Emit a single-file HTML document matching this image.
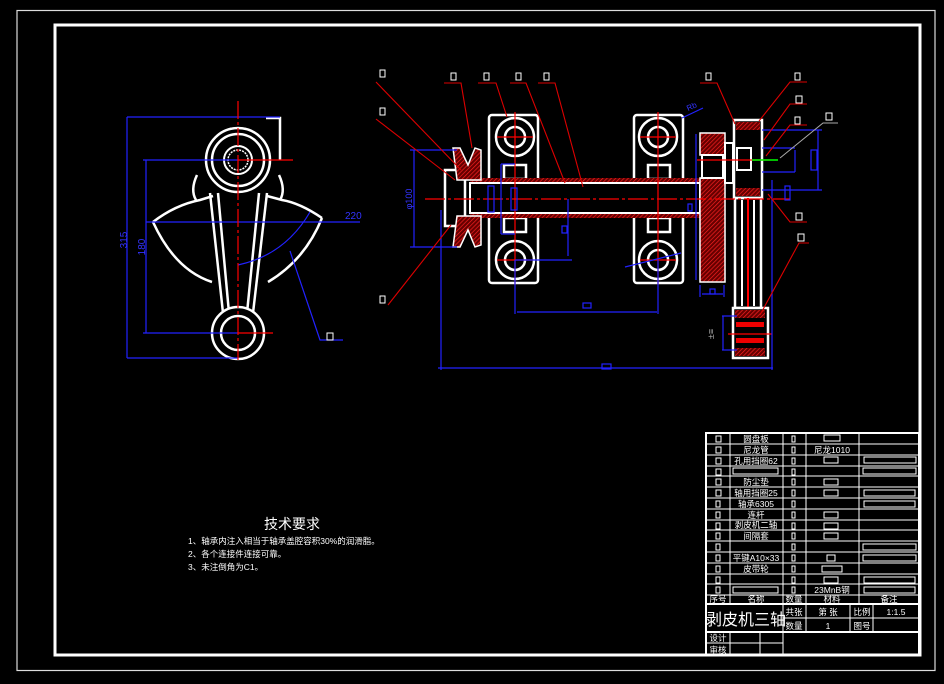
<!DOCTYPE html>
<html><head><meta charset="utf-8"><style>
html,body{margin:0;padding:0;background:#000;}
svg{display:block;}
text{font-family:"Liberation Sans","Noto Sans CJK SC",sans-serif;fill:#fff;}
</style></head><body>
<svg width="944" height="684" viewBox="0 0 944 684" xmlns="http://www.w3.org/2000/svg">
<defs>
<pattern id="h" width="3" height="3" patternUnits="userSpaceOnUse" patternTransform="rotate(45)">
<rect width="3" height="3" fill="#600"/><line x1="0" y1="0" x2="0" y2="3" stroke="#f22" stroke-width="1.3"/>
</pattern>
</defs>
<rect x="0" y="0" width="944" height="684" fill="#000"/>
<rect x="17" y="10.5" width="918" height="660" fill="none" stroke="#ddd" stroke-width="1.2"/>
<rect x="55" y="25" width="865" height="630" fill="none" stroke="#fff" stroke-width="3"/>

<!-- LEFT VIEW -->
<g fill="none" stroke="#fff" stroke-width="2.5">
<path d="M153,222 Q175,205 200,200 L213,196"/>
<path d="M322,218 Q300,203 282,200 L267,196"/>
<path d="M153,222 Q175,270 212,282"/>
<path d="M322,218 Q305,260 268,282"/>
<path d="M210,193 L223,313"/><path d="M218,193 L229,313"/>
<path d="M267,193 L253,313"/><path d="M259,193 L247,313"/>
<path d="M197,175 Q190,190 196,200"/><path d="M279,175 Q286,190 280,200"/>
<circle cx="238" cy="160" r="32" fill="#000"/>
<circle cx="238" cy="160" r="26"/>
<circle cx="238" cy="160" r="14" stroke-width="2"/>
<circle cx="238" cy="160" r="10" stroke-width="1.5" stroke-dasharray="2 1"/>
<circle cx="238" cy="333" r="26" fill="#000"/>
<circle cx="238" cy="333" r="17"/>
<path d="M266,118 L280,118 L280,160"/>
</g>
<g stroke="#22f" stroke-width="1.2" fill="none">
<line x1="127" y1="117" x2="280" y2="117"/><line x1="127" y1="117" x2="127" y2="358"/>
<line x1="127" y1="358" x2="238" y2="358"/>
<line x1="143" y1="160" x2="238" y2="160"/><line x1="146" y1="160" x2="146" y2="333"/>
<line x1="143" y1="333" x2="238" y2="333"/>
<line x1="146" y1="222" x2="360" y2="222"/>
<path d="M238,265 Q285,255 310,212"/>
<path d="M290,251 L320,340 L343,340"/>
</g>
<g stroke="#f00" stroke-width="1.2">
<line x1="238" y1="101" x2="238" y2="360" stroke-dasharray="18 3 3 3"/>
<line x1="238" y1="160" x2="293" y2="160"/><line x1="238" y1="333" x2="273" y2="333"/>
</g>
<text x="345" y="219" font-size="10" style="fill:#33f">220</text>
<text transform="translate(127,240) rotate(-90)" font-size="10" text-anchor="middle" style="fill:#33f">315</text>
<text transform="translate(145,247) rotate(-90)" font-size="10" text-anchor="middle" style="fill:#33f">180</text>
<rect x="327" y="333" width="6" height="7" fill="none" stroke="#fff"/>

<!-- RIGHT VIEW -->
<g fill="none" stroke="#fff" stroke-width="2.5">
<rect x="489" y="115" width="49" height="168" rx="3"/>
<rect x="634" y="115" width="49" height="168" rx="3"/>
<circle cx="515" cy="137" r="19"/><circle cx="515" cy="137" r="10"/>
<circle cx="515" cy="260" r="19"/><circle cx="515" cy="260" r="10"/>
<circle cx="658" cy="137" r="19"/><circle cx="658" cy="137" r="10"/>
<circle cx="658" cy="260" r="19"/><circle cx="658" cy="260" r="10"/>
<rect x="504" y="165" width="22" height="14"/><rect x="504" y="218" width="22" height="14"/>
<rect x="648" y="165" width="22" height="14"/><rect x="648" y="218" width="22" height="14"/>
</g>
<rect x="470" y="178" width="230" height="40" fill="url(#h)"/>
<rect x="470" y="183" width="230" height="30" fill="#000" stroke="#fff" stroke-width="2"/>
<rect x="445" y="170" width="20" height="56" fill="#000" stroke="#fff" stroke-width="2.5"/>
<path d="M453,148 L460,148 L468,165 L475,148 L481,150 L481,180 L457,180 Z" fill="url(#h)" stroke="#fff" stroke-width="1.5"/>
<path d="M453,247 L460,247 L468,230 L475,247 L481,245 L481,216 L457,216 Z" fill="url(#h)" stroke="#fff" stroke-width="1.5"/>
<rect x="700" y="133" width="25" height="22" fill="url(#h)" stroke="#fff" stroke-width="1.5"/>
<rect x="700" y="178" width="25" height="104" fill="url(#h)" stroke="#fff" stroke-width="1.5"/>
<rect x="702" y="155" width="21" height="23" fill="#000" stroke="#fff" stroke-width="2"/>
<rect x="725" y="143" width="8" height="40" fill="#000" stroke="#fff" stroke-width="2"/>
<rect x="734" y="120" width="28" height="78" fill="#000" stroke="#fff" stroke-width="2.5"/>
<rect x="736" y="122" width="24" height="8" fill="url(#h)"/>
<rect x="736" y="188" width="24" height="8" fill="url(#h)"/>
<rect x="737" y="148" width="14" height="22" fill="none" stroke="#fff" stroke-width="2"/>
<rect x="735" y="198" width="26" height="110" fill="none" stroke="#fff" stroke-width="2.5"/>
<line x1="742" y1="200" x2="742" y2="306" stroke="#fff" stroke-width="2"/>
<line x1="754" y1="200" x2="754" y2="306" stroke="#fff" stroke-width="2"/>
<line x1="748" y1="198" x2="748" y2="308" stroke="#f00" stroke-width="2"/>
<rect x="733" y="308" width="35" height="50" fill="#000" stroke="#fff" stroke-width="2.5"/>
<rect x="735" y="310" width="30" height="8" fill="url(#h)"/>
<rect x="735" y="348" width="30" height="8" fill="url(#h)"/>
<rect x="736" y="322" width="28" height="5" fill="#e00"/>
<rect x="736" y="338" width="28" height="5" fill="#e00"/>
<g stroke="#f00" stroke-width="1.2">
<line x1="425" y1="199" x2="790" y2="199" stroke-dasharray="20 3 3 3"/>
<line x1="515" y1="112" x2="515" y2="285"/><line x1="658" y1="112" x2="658" y2="285"/>
<line x1="497" y1="137" x2="533" y2="137"/><line x1="497" y1="260" x2="533" y2="260"/>
<line x1="640" y1="137" x2="676" y2="137"/><line x1="640" y1="260" x2="676" y2="260"/>
<line x1="697" y1="160" x2="770" y2="160"/>
<line x1="728" y1="334" x2="772" y2="334"/>
</g>
<line x1="752" y1="160" x2="778" y2="160" stroke="#0f0" stroke-width="1.5"/>
<g stroke="#22f" stroke-width="1.2" fill="none">
<line x1="410" y1="150" x2="457" y2="150"/><line x1="410" y1="247" x2="457" y2="247"/>
<line x1="414" y1="150" x2="414" y2="247"/>
<line x1="441" y1="210" x2="441" y2="370"/><line x1="438" y1="368" x2="773" y2="368"/>
<line x1="772" y1="180" x2="772" y2="370"/>
<line x1="515" y1="260" x2="515" y2="314"/><line x1="658" y1="260" x2="658" y2="314"/>
<line x1="517" y1="312" x2="657" y2="312"/>
<line x1="515" y1="260" x2="572" y2="260"/><line x1="568" y1="199" x2="568" y2="256"/>
<line x1="501" y1="164" x2="501" y2="234"/><line x1="501" y1="164" x2="515" y2="164"/><line x1="501" y1="234" x2="515" y2="234"/>
<line x1="696" y1="134" x2="696" y2="280"/><line x1="700" y1="285" x2="700" y2="297"/><line x1="724" y1="285" x2="724" y2="297"/>
<line x1="702" y1="294" x2="723" y2="294"/>
<line x1="762" y1="130" x2="822" y2="130"/><line x1="762" y1="190" x2="822" y2="190"/><line x1="818" y1="130" x2="818" y2="190"/>
<line x1="762" y1="148" x2="795" y2="148"/><line x1="762" y1="172" x2="795" y2="172"/><line x1="795" y1="150" x2="795" y2="172"/>
<line x1="722" y1="316" x2="737" y2="316"/><line x1="722" y1="350" x2="737" y2="350"/><line x1="723" y1="316" x2="723" y2="350"/>
<line x1="682" y1="118" x2="703" y2="108"/>
<line x1="625" y1="267" x2="681" y2="253"/>
<rect x="488" y="186" width="6" height="26"/><rect x="511" y="188" width="6" height="22"/>
<rect x="562" y="226" width="5" height="7"/><rect x="583" y="303" width="8" height="5"/>
<rect x="602" y="364" width="9" height="5"/><rect x="688" y="204" width="4" height="7"/>
<rect x="710" y="289" width="5" height="5"/>
<rect x="811" y="150" width="6" height="20"/><rect x="785" y="186" width="5" height="14"/>
</g>
<text transform="translate(412,199) rotate(-90)" font-size="9" text-anchor="middle" style="fill:#33f">φ100</text>
<text x="687" y="110" font-size="8" style="fill:#33f" transform="rotate(-25 690 108)">Rb</text>
<text transform="translate(714,334) rotate(-90)" font-size="9" text-anchor="middle" style="fill:#aaa">±≡</text>
<g stroke="#d00" stroke-width="1.1" fill="none">
<path d="M376,82 L461,170"/><path d="M376,119 L455,180"/><path d="M388,305 L451,225"/>
<path d="M444,83 L461,83 L472,148"/>
<path d="M478,83 L496,83 L507,117"/>
<path d="M510,83 L526,83 L565,183"/>
<path d="M538,83 L555,83 L583,187"/>
<path d="M700,83 L717,83 L735,124"/>
<path d="M807,82 L790,82 L759,121"/>
<path d="M807,104 L790,104 L764,140"/>
<path d="M807,125 L790,125 L766,156"/>
<path d="M807,222 L790,222 L768,194"/>
<path d="M809,243 L799,243 L760,315"/>
</g>
<path d="M838,123 L823,123 L780,158" stroke="#aaa" stroke-width="1" fill="none"/>
<g fill="none" stroke="#fff" stroke-width="1">
<rect x="380" y="70" width="5" height="7"/><rect x="380" y="108" width="5" height="7"/><rect x="380" y="296" width="5" height="7"/>
<rect x="451" y="73" width="5" height="7"/><rect x="484" y="73" width="5" height="7"/><rect x="516" y="73" width="5" height="7"/><rect x="544" y="73" width="5" height="7"/>
<rect x="706" y="73" width="5" height="7"/><rect x="795" y="73" width="5" height="7"/><rect x="796" y="96" width="6" height="7"/>
<rect x="795" y="117" width="5" height="7"/><rect x="826" y="113" width="6" height="7"/><rect x="796" y="213" width="6" height="7"/><rect x="798" y="234" width="6" height="7"/>
</g>

<text x="264" y="529" font-size="14">技术要求</text>
<text x="188" y="544" font-size="8.5">1、轴承内注入相当于轴承盖腔容积30%的润滑脂。</text>
<text x="188" y="557" font-size="8.5">2、各个连接件连接可靠。</text>
<text x="188" y="570" font-size="8.5">3、未注倒角为C1。</text>

<g stroke="#fff" fill="none">
<rect x="706" y="433" width="213" height="222" stroke-width="2"/>
<g stroke-width="1">
<line x1="706" y1="444" x2="919" y2="444"/><line x1="706" y1="455" x2="919" y2="455"/>
<line x1="706" y1="466" x2="919" y2="466"/><line x1="706" y1="476" x2="919" y2="476"/>
<line x1="706" y1="487" x2="919" y2="487"/><line x1="706" y1="498" x2="919" y2="498"/>
<line x1="706" y1="509" x2="919" y2="509"/><line x1="706" y1="520" x2="919" y2="520"/>
<line x1="706" y1="530" x2="919" y2="530"/><line x1="706" y1="541" x2="919" y2="541"/>
<line x1="706" y1="552" x2="919" y2="552"/><line x1="706" y1="563" x2="919" y2="563"/>
<line x1="706" y1="574" x2="919" y2="574"/><line x1="706" y1="584" x2="919" y2="584"/>
<line x1="706" y1="595" x2="919" y2="595"/>
<line x1="730" y1="433" x2="730" y2="604"/><line x1="783" y1="433" x2="783" y2="632"/>
<line x1="806" y1="433" x2="806" y2="632"/><line x1="859" y1="433" x2="859" y2="604"/>
<line x1="850" y1="604" x2="850" y2="632"/><line x1="873" y1="604" x2="873" y2="632"/>
<line x1="783" y1="618" x2="919" y2="618"/>
<line x1="706" y1="643" x2="783" y2="643"/>
<line x1="730" y1="632" x2="730" y2="655"/><line x1="760" y1="632" x2="760" y2="655"/><line x1="783" y1="632" x2="783" y2="655"/>
</g>
<line x1="706" y1="604" x2="919" y2="604" stroke-width="2"/>
<line x1="706" y1="632" x2="919" y2="632" stroke-width="2"/>
</g>
<g fill="none" stroke="#fff" stroke-width="1">
<rect x="716" y="436" width="5" height="6"/><rect x="716" y="447" width="5" height="6"/><rect x="716" y="458" width="5" height="6"/>
<rect x="716" y="469" width="5" height="6"/><rect x="716" y="479" width="5" height="6"/><rect x="716" y="490" width="5" height="6"/>
<rect x="716" y="501" width="4" height="6"/><rect x="716" y="512" width="4" height="6"/><rect x="716" y="523" width="4" height="6"/>
<rect x="716" y="533" width="4" height="6"/><rect x="716" y="544" width="4" height="6"/><rect x="716" y="555" width="4" height="6"/>
<rect x="716" y="566" width="4" height="6"/><rect x="716" y="577" width="4" height="6"/><rect x="716" y="587" width="4" height="6"/>
<rect x="792" y="436" width="3" height="6"/><rect x="792" y="447" width="3" height="6"/><rect x="792" y="458" width="3" height="6"/>
<rect x="792" y="469" width="3" height="6"/><rect x="792" y="479" width="3" height="6"/><rect x="792" y="490" width="3" height="6"/>
<rect x="792" y="501" width="3" height="6"/><rect x="792" y="512" width="3" height="6"/><rect x="792" y="523" width="3" height="6"/>
<rect x="792" y="533" width="3" height="6"/><rect x="792" y="544" width="3" height="6"/><rect x="792" y="555" width="3" height="6"/>
<rect x="792" y="566" width="3" height="6"/><rect x="792" y="577" width="3" height="6"/><rect x="792" y="587" width="3" height="6"/>
<rect x="824" y="435" width="16" height="6"/><rect x="824" y="457" width="14" height="6"/><rect x="824" y="479" width="14" height="6"/>
<rect x="824" y="490" width="14" height="6"/><rect x="824" y="512" width="14" height="6"/><rect x="824" y="523" width="14" height="6"/>
<rect x="824" y="533" width="14" height="6"/><rect x="827" y="555" width="8" height="6"/><rect x="822" y="566" width="20" height="6"/><rect x="824" y="577" width="14" height="6"/>
<rect x="864" y="457" width="52" height="6"/><rect x="863" y="468" width="53" height="6"/><rect x="864" y="490" width="51" height="6"/>
<rect x="864" y="501" width="51" height="6"/><rect x="863" y="544" width="53" height="6"/><rect x="863" y="555" width="53" height="6"/>
<rect x="864" y="577" width="51" height="6"/><rect x="864" y="587" width="51" height="6"/>
<rect x="733" y="468" width="45" height="6"/><rect x="733" y="587" width="45" height="6"/>
</g>
<g font-size="8.5" text-anchor="middle">
<text x="756" y="442">圆盘板</text><text x="756" y="453">尼龙管</text><text x="756" y="464">孔用挡圈62</text>
<text x="756" y="485">防尘垫</text><text x="756" y="496">轴用挡圈25</text><text x="756" y="507">轴承6305</text>
<text x="756" y="518">连杆</text><text x="756" y="528">剥皮机二轴</text><text x="756" y="539">间隔套</text>
<text x="756" y="561">平键A10×33</text><text x="756" y="572">皮带轮</text>
<text x="832" y="453">尼龙1010</text><text x="832" y="593">23MnB钢</text>
<text x="718" y="602">序号</text><text x="756" y="602">名称</text><text x="794" y="602">数量</text><text x="832" y="602">材料</text><text x="889" y="602">备注</text>
<text x="794" y="615">共张</text><text x="794" y="629">数量</text><text x="828" y="615">第 张</text><text x="828" y="629">1</text>
<text x="862" y="615">比例</text><text x="862" y="629">图号</text><text x="896" y="615">1:1.5</text>
<text x="718" y="641">设计</text><text x="718" y="653">审核</text>
</g>
<text x="706" y="625" font-size="16">剥皮机三轴</text>
</svg>
</body></html>
